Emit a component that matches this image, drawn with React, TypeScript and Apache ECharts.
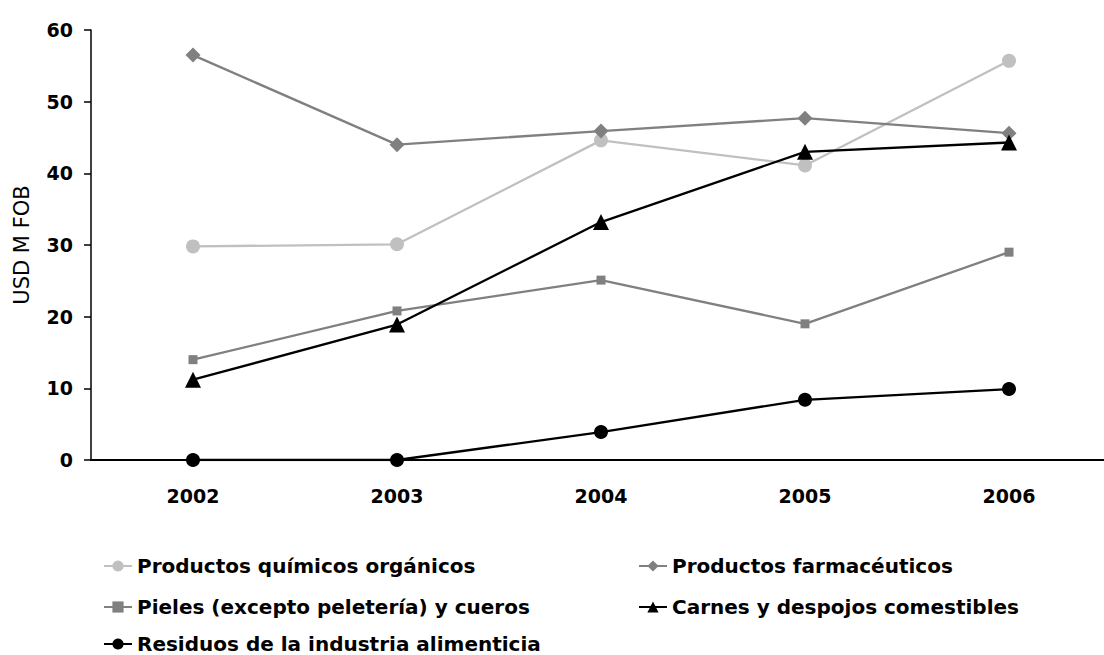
import React, { useEffect, useRef } from "react";
import * as echarts from "echarts";

const years = ["2002", "2003", "2004", "2005", "2006"];
const quimicos = [29.8, 30.1, 44.6, 41.1, 55.7];
const farmaceuticos = [56.5, 44.0, 45.9, 47.7, 45.6];
const pieles = [14.0, 20.8, 25.1, 19.0, 29.0];
const carnes = [11.2, 18.9, 33.2, 43.0, 44.3];
const residuos = [0, 0, 3.9, 8.4, 9.9];

const names = [
  "Productos químicos orgánicos",
  "Productos farmacéuticos",
  "Pieles (excepto peletería) y cueros",
  "Carnes y despojos comestibles",
  "Residuos de la industria alimenticia",
];

const FONT = "DejaVu Sans";

export default function App() {
  const ref = useRef<HTMLDivElement>(null);
  useEffect(() => {
    if (!ref.current) return;
    const chart = echarts.init(ref.current, null, { renderer: "svg" });
    const mkSeries = (name: string, data: number[], color: string, symbol: string, size: number) => ({
      name,
      type: "line",
      data,
      symbol,
      symbolSize: size,
      lineStyle: { color, width: 2.3 },
      itemStyle: { color },
      z: 3,
    });
    const legendPos = [
      { left: 103, top: 556 },
      { left: 638, top: 556 },
      { left: 103, top: 597 },
      { left: 638, top: 597 },
      { left: 103, top: 634 },
    ];
    chart.setOption({
      animation: false,
      backgroundColor: "#ffffff",
      grid: { left: 91, top: 30, width: 1020, height: 430, outerBoundsMode: "none", containLabel: false },
      xAxis: {
        type: "category",
        data: years,
        boundaryGap: true,
        axisLine: { lineStyle: { color: "#000", width: 2 } },
        axisTick: { length: 6, lineStyle: { color: "#000", width: 1.5 } },
        axisLabel: { color: "#000", fontFamily: FONT, fontWeight: "bold", fontSize: 19, margin: 26 },
      },
      yAxis: {
        type: "value",
        min: 0,
        max: 60,
        interval: 10,
        name: "USD M FOB",
        nameLocation: "middle",
        nameRotate: 90,
        nameGap: 59,
        nameTextStyle: { color: "#000", fontFamily: FONT, fontSize: 21 },
        splitLine: { show: false },
        axisLine: { show: true, lineStyle: { color: "#000", width: 1.5 } },
        axisTick: { show: true, length: 7, lineStyle: { color: "#000", width: 1.5 } },
        axisLabel: { color: "#000", fontFamily: FONT, fontWeight: "bold", fontSize: 19, margin: 18 },
      },
      legend: names.map((n, i) => ({
        data: [n],
        left: legendPos[i].left,
        top: legendPos[i].top,
        padding: 0,
        itemWidth: 28,
        itemHeight: 14,
        textStyle: { color: "#000", fontFamily: FONT, fontWeight: "bold", fontSize: 20 },
      })),
      series: [
        mkSeries(names[0], quimicos, "#c0c0c0", "circle", 14),
        mkSeries(names[1], farmaceuticos, "#808080", "diamond", 15),
        mkSeries(names[2], pieles, "#808080", "rect", 9),
        mkSeries(names[3], carnes, "#000000", "triangle", 16),
        mkSeries(names[4], residuos, "#000000", "circle", 14),
      ],
    });
    return () => chart.dispose();
  }, []);
  return (
    <div
      ref={ref}
      style={{ position: "fixed", left: 0, top: 0, width: 1104, height: 655, background: "#fff" }}
    />
  );
}
